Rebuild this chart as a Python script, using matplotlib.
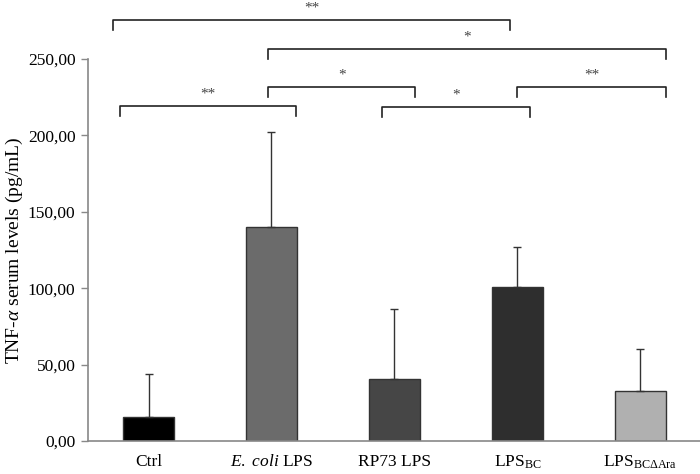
import matplotlib
matplotlib.use("Agg")
import matplotlib.pyplot as plt

plt.rcParams['font.family'] = ['Liberation Serif', 'DejaVu Serif']
plt.rcParams['mathtext.fontset'] = 'custom'
plt.rcParams['mathtext.rm'] = 'Liberation Serif'
plt.rcParams['mathtext.it'] = 'Liberation Serif:italic'

groups = ['Ctrl', r'$\it{E.\ coli}$ LPS', 'RP73 LPS', r'LPS$_{\mathrm{BC}}$', r'LPS$_{\mathrm{BC\Delta Ara}}$']
means = [15.5, 140.0, 40.5, 101.0, 32.7]
errors = [28.5, 62.0, 46.0, 26.0, 27.3]
colors = ['#000000', '#6b6b6b', '#464646', '#2e2e2e', '#b0b0b0']

# significance brackets: (left x, right x, bar height, label)
pairs = [
    (-0.29, 2.94, 275.5, '**'),
    (0.97, 4.21, 256.5, '*'),
    (0.97, 2.17, 231.7, '*'),
    (3.00, 4.21, 231.7, '**'),
    (-0.23, 1.20, 219.0, '**'),
    (1.90, 3.10, 218.6, '*'),
]

fig = plt.figure(figsize=(7.0, 4.74), dpi=100)
ax = fig.add_axes([0.1257, 0.0696, 0.8743, 0.8059])

x = list(range(len(groups)))
lower = [0] * len(errors)
ax.bar(x, means, width=0.42, color=colors, edgecolor='#333333', linewidth=1.0,
       yerr=[lower, errors], capsize=3,
       error_kw=dict(ecolor='#333333', elinewidth=1.0, capthick=1.0))

ax.set_xlim(-0.492, 4.484)
ax.set_ylim(0, 250)
ax.set_yticks([0, 50, 100, 150, 200, 250])
ax.set_yticklabels(['0,00', '50,00', '100,00', '150,00', '200,00', '250,00'], fontsize=12.5)
ax.set_xticks(x)
ax.set_xticklabels(groups, fontsize=12.5)
ax.tick_params(axis='x', length=0, pad=9)
ax.tick_params(axis='y', length=5, color='#888888', width=1.0, direction='out', pad=4)
ax.set_ylabel(r'TNF-$\it{\alpha}$ serum levels (pg/mL)', fontsize=14, labelpad=2)

for side in ['top', 'right']:
    ax.spines[side].set_visible(False)
for side in ['left', 'bottom']:
    ax.spines[side].set_color('#888888')
    ax.spines[side].set_linewidth(1.2)

tick_drop = 6.5
for x0, x1, h, lab in pairs:
    ax.plot([x0, x0, x1, x1], [h - tick_drop, h, h, h - tick_drop], color='#222222',
            linewidth=1.2, clip_on=False)
    ax.text((x0 + x1) / 2, h + 8, lab, ha='center', va='center', fontsize=11,
            color='#444444', clip_on=False)

fig.savefig('out.png', dpi=100)
